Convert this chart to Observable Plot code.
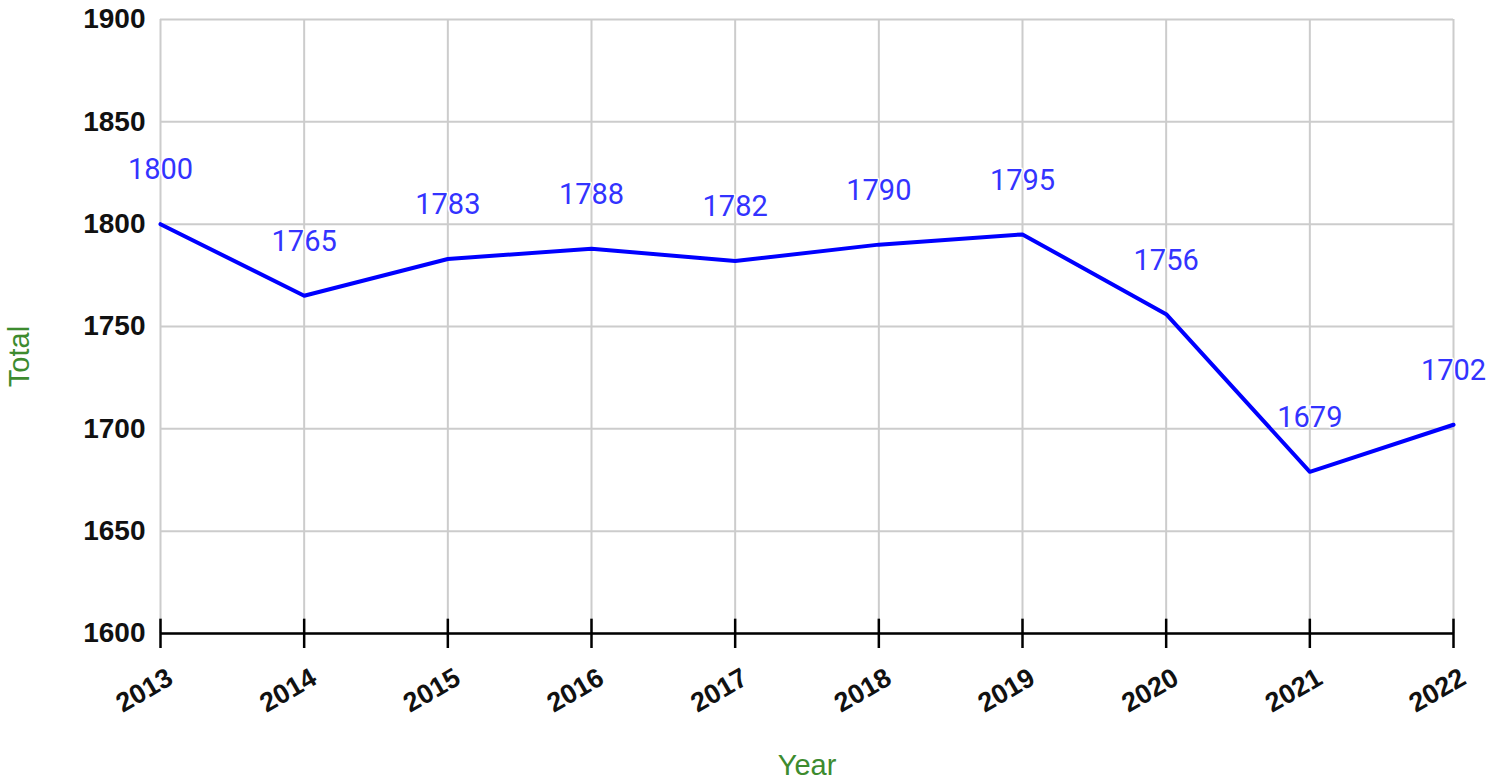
<!DOCTYPE html>
<html>
<head>
<meta charset="utf-8">
<script src="https://cdn.jsdelivr.net/npm/d3@7"></script>
<script src="https://cdn.jsdelivr.net/npm/@observablehq/plot@0.6"></script>
<style>
  html, body { margin: 0; padding: 0; background: #fff; }
  #chart svg { display: block; }
</style>
</head>
<body>
<div id="chart"></div>
<script>
const years = [2013, 2014, 2015, 2016, 2017, 2018, 2019, 2020, 2021, 2022];
const totals = [1800, 1765, 1783, 1788, 1782, 1790, 1795, 1756, 1679, 1702];
const yTicks = [1600, 1650, 1700, 1750, 1800, 1850, 1900];
const xTitle = "Year";
const yTitle = "Total";

const data = years.map((year, i) => ({year, total: totals[i]}));

const tickFont = "'Liberation Sans', Arial, sans-serif";

const chart = Plot.plot({
  width: 1488,
  height: 778,
  marginLeft: 160,
  marginRight: 35,
  marginTop: 19,
  marginBottom: 145,
  style: {background: "#fff", overflow: "visible"},
  x: {domain: [2013, 2022], ticks: years, tickFormat: d => String(d)},
  y: {domain: [1600, 1900], ticks: yTicks, tickFormat: d => String(d)},
  marks: [
    Plot.gridX(years, {stroke: "#cccccc", strokeOpacity: 1, strokeWidth: 2}),
    Plot.gridY(yTicks, {stroke: "#cccccc", strokeOpacity: 1, strokeWidth: 2}),
    Plot.ruleY([1600], {stroke: "#000", strokeWidth: 2.5}),
    Plot.ruleX(years, {y1: 1600, y2: 1607, stroke: "#000", strokeWidth: 2.5}),
    Plot.axisY({
      ticks: yTicks, tickSize: 0, tickPadding: 15, label: null,
      tickFormat: d => String(d),
      fontSize: 28, fontWeight: "bold", fontFamily: tickFont, fill: "#111"
    }),
    Plot.axisX({
      ticks: years, tickSize: 15, text: null, label: null,
      stroke: "#000", strokeWidth: 2.5
    }),
    Plot.axisX({
      ticks: years, tickSize: 0, tickPadding: 42, tickRotate: -30, label: null,
      tickFormat: d => String(d),
      fontSize: 27, fontWeight: "bold", fontFamily: tickFont, fill: "#111", dx: 10
    }),
    Plot.line(data, {x: "year", y: "total", stroke: "#0000ff", strokeWidth: 4}),
    Plot.text(data, {
      x: "year", y: "total", text: d => String(d.total), dy: -54,
      fill: "#3333ff", stroke: "#fff", strokeWidth: 3, fontSize: 29, fontFamily: "Roboto, sans-serif"
    }),
    Plot.text([xTitle], {
      frameAnchor: "bottom", dy: 141, text: d => d,
      fill: "#3d8b2f", fontSize: 29, fontFamily: tickFont
    }),
    Plot.text([yTitle], {
      frameAnchor: "left", textAnchor: "middle", dx: -141, dy: 30, rotate: -90, text: d => d,
      fill: "#3d8b2f", fontSize: 29, fontFamily: tickFont
    })
  ]
});

document.getElementById("chart").appendChild(chart);
</script>
</body>
</html>
